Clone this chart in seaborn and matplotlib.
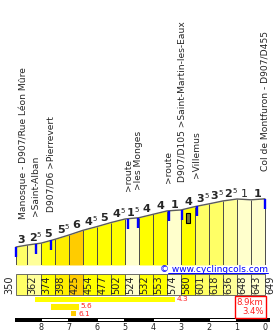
import numpy as np
import matplotlib
matplotlib.use("Agg")
import matplotlib.pyplot as plt
import seaborn as sns
import pandas as pd
from matplotlib.patches import Rectangle

# ---------------- data ----------------
boundary_km = [0.0, 0.4, 0.9, 1.4, 1.9, 2.4, 2.9, 3.4, 3.9, 4.4, 4.9,
               5.4, 5.9, 6.4, 6.9, 7.4, 7.9, 8.4, 8.9]
altitudes = [350, 362, 374, 398, 425, 454, 477, 502, 524, 532, 553,
             574, 580, 601, 618, 636, 648, 643, 649]
gradient_labels = ["3", "2.5", "5", "5.5", "6", "4.5", "5", "4.5", "1.5",
                   "4", "4", "1", "4", "3.5", "3.5", "2.5", "1", "1"]
descending = [False] * 16 + [True, False]

place_km = [0.0, 0.71, 1.25, 4.01, 4.37, 5.46, 5.93, 6.46, 8.9]
place_names = ["Manosque - D907/Rue Léon Mûre", ">Saint-Alban",
               "D907/D6 >Pierrevert", ">route", ">les Monges", ">route",
               "D907/D105 >Saint-Martin-les-Eaux", ">Villemus",
               "Col de Montfuron - D907/D455"]
obstacle_km = [6.14]

best_start_km = [0.67, 1.25, 1.96]
best_len_km = [5.0, 1.0, 0.2]
best_grad = [4.3, 5.6, 6.1]

total_km = 8.9
avg_grad = 3.4
km_ticks = [8, 7, 6, 5, 4, 3, 2, 1, 0]
site = "© www.cyclingcols.com"

# ---------------- styling ----------------
def grad_color(g):
    if g < 2:
        return "#FFFFCC"
    if g < 3:
        return "#FFFF99"
    if g < 4:
        return "#FFFF66"
    if g < 5.5:
        return "#FFFF00"
    if g < 6:
        return "#FFEE00"
    return "#FFCC00"

sns.set_style("white")
plt.rcParams["font.family"] = ["DejaVu Sans"]

W, H = 280, 335
fig = plt.figure(figsize=(W / 100, H / 100), dpi=100)
PX_KM = 249 / total_km
x0_px = 16
xlim = (-x0_px / PX_KM, (W - x0_px) / PX_KM)

# profile axes: top 265 px of the figure
prof_h = 265
ax = fig.add_axes([0, (H - prof_h) / H, 1, prof_h / H])
px_m = 48 / 298.0
ax.set_xlim(*xlim)
ax.set_ylim(350 - 18 / px_m, 350 + 247 / px_m)
ax.axis("off")

# lower axes in pixel-like units
ax2 = fig.add_axes([0, 0, 1, (H - prof_h) / H], sharex=ax)
ax2.set_ylim(H, prof_h)
ax2.axis("off")

floor = ax.get_ylim()[0]
grad_vals = [float(g) for g in gradient_labels]

# filled segments
for i in range(len(grad_vals)):
    ax.fill_between(boundary_km[i:i + 2], altitudes[i:i + 2], floor,
                    color=grad_color(grad_vals[i]), lw=0)
ax.vlines(boundary_km, floor, altitudes, color="#4a4a4a", lw=0.7)
df = pd.DataFrame({"km": boundary_km, "alt": altitudes})
sns.lineplot(data=df, x="km", y="alt", ax=ax, color="#5a5a5a", lw=1.0)
ax.set_xlim(*xlim)
ax.axis("off")

# pixels per metre / km from the axis scale
fig.canvas.draw()
ppm = (ax.transData.transform((0, 1)) - ax.transData.transform((0, 0)))[1]
ppk = (ax.transData.transform((1, 0)) - ax.transData.transform((0, 0)))[0]

# place markers and names
p_alt = np.interp(place_km, boundary_km, altitudes)
ax.vlines(place_km, p_alt - 10 / ppm, p_alt, color="#0000FF", lw=1.7)
for km, a, name in zip(place_km, p_alt, place_names):
    dx = max(0.0, 23.5 - (x0_px + km * ppk))
    ax.annotate(name, (km, a), xytext=(dx, 28), textcoords="offset pixels",
                rotation=90, ha="center", va="bottom", fontsize=6.6)

o_alt = np.interp(obstacle_km, boundary_km, altitudes)
for km, a in zip(obstacle_km, o_alt):
    ax.add_patch(Rectangle((km - 2 / ppk, a - 15 / ppm), 4 / ppk, 10 / ppm,
                           facecolor="#77773a", edgecolor="black", lw=0.8))

# gradient labels
for i, lab in enumerate(gradient_labels):
    mid = (boundary_km[i] + boundary_km[i + 1]) / 2
    top = max(altitudes[i], altitudes[i + 1])
    main, _, frac = lab.partition(".")
    w = "normal" if descending[i] else "bold"
    if frac:
        ax.annotate(main, (mid, top), xytext=(-1.6, 2), textcoords="offset pixels",
                    ha="center", va="baseline", fontsize=8, fontweight=w)
        ax.annotate(frac, (mid, top), xytext=(2.0, 6), textcoords="offset pixels",
                    ha="left", va="baseline", fontsize=5)
    else:
        ax.annotate(main, (mid, top), xytext=(0, 2), textcoords="offset pixels",
                    ha="center", va="baseline", fontsize=8, fontweight=w)

# altitude band
widths = np.diff(boundary_km)
lefts = np.array(boundary_km[:-1])
ax2.bar(lefts, 21, width=widths, bottom=274, align="edge",
        color=[grad_color(g) for g in grad_vals], edgecolor="#555555", lw=0.6)
for i, (km, a) in enumerate(zip(boundary_km, altitudes)):
    if i == 0:
        ax2.annotate(str(a), (km, 294), xytext=(-2, 0), textcoords="offset pixels",
                     rotation=90, ha="right", va="bottom", fontsize=7, color="#222222")
    else:
        ax2.annotate(str(a), (km, 294), xytext=(0.5, 0), textcoords="offset pixels",
                     rotation=90, ha="left", va="bottom", fontsize=7, color="#222222")

# website
t = ax2.text(total_km + 3 / ppk, 269.5, site, ha="right", va="center",
             fontsize=6.5, color="#0000FF")
fig.canvas.draw()
bb = t.get_window_extent().transformed(ax2.transData.inverted())
ax2.plot([bb.x0 + 8 / ppk, bb.x1], [273, 273], color="#0000FF", lw=0.7)

# steepest stretches
bar_y = [296.5, 304, 310.7]
label_dy = [2.8, 2.2, 3.6]
for s, l, g, y, d in zip(best_start_km, best_len_km, best_grad, bar_y, label_dy):
    ax2.barh(y, l, left=s, height=5.5, align="edge", color=grad_color(g), lw=0)
    ax2.annotate(f"{g:.1f}", (s + l, y + d), xytext=(2, 0), textcoords="offset pixels",
                 ha="left", va="center", fontsize=5.3, color="#FF2020")

# total box
ax2.text(total_km - 1.5 / ppk, 306.8, f"{total_km:.1f}km\n{avg_grad:.1f}%",
         ha="right", va="center", fontsize=6.1, color="#FF2020", linespacing=1.0,
         bbox=dict(boxstyle="square,pad=0.25", fc="white", ec="#FF0000", lw=1.0))

# km scale bar
ax2.barh(318, total_km + 0.22, left=-0.03, height=4, align="edge", color="black", lw=0)
for k in km_ticks:
    s = total_km - k
    if k % 2 == 0 and k > 0:
        ax2.barh(319, 1.0 - 0.05, left=s + 0.02, height=2, align="edge",
                 color="white", lw=0)
    ax2.text(s, 327.5, str(k), ha="center", va="center", fontsize=5.8, color="#222222")

fig.savefig("out.png", dpi=100)
